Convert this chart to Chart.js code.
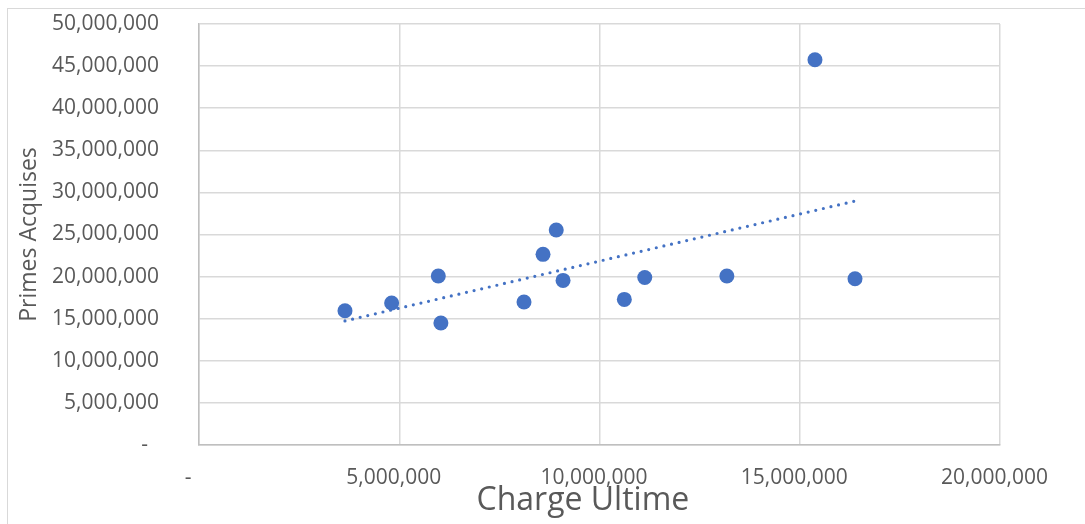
<!DOCTYPE html>
<html>
<head>
<meta charset="utf-8">
<script src="https://cdn.jsdelivr.net/npm/chart.js@4"></script>
<style>
  html, body { margin: 0; padding: 0; background: #fff; }
  #wrap { position: relative; width: 1085px; height: 524px; overflow: hidden; }
  #frame { position: absolute; left: 7px; top: 8px; right: -2px; bottom: -2px;
           border-top: 1px solid #d9d9d9; border-left: 1px solid #d9d9d9; }
  #chart { position: absolute; left: 0; top: 0; }
</style>
</head>
<body>
<div id="wrap">
  <div id="frame"></div>
  <canvas id="chart" width="1085" height="524"></canvas>
</div>
<script>
// data
const chargeUltime = [3645000, 4810000, 5975000, 6040000, 8115000, 8590000, 8920000,
                      9090000, 10620000, 11130000, 13180000, 15380000, 16380000];
const primesAcquises = [15950000, 16860000, 20070000, 14490000, 16980000, 22640000, 25530000,
                        19550000, 17290000, 19900000, 20070000, 45760000, 19750000];
const xTicks = [0, 5000000, 10000000, 15000000, 20000000];
const yTicks = [0, 5000000, 10000000, 15000000, 20000000, 25000000,
                30000000, 35000000, 40000000, 45000000, 50000000];

const blue = '#4472C4';
const grey = '#595959';
const font = 'Open Sans';

// linear trendline (least squares), like Excel's
function trendline(xs, ys) {
    const n = xs.length;
    const mx = xs.reduce((a, b) => a + b, 0) / n;
    const my = ys.reduce((a, b) => a + b, 0) / n;
    let sxy = 0, sxx = 0;
    for (let i = 0; i < n; i++) {
        sxy += (xs[i] - mx) * (ys[i] - my);
        sxx += (xs[i] - mx) * (xs[i] - mx);
    }
    const slope = sxy / sxx;
    const x0 = Math.min(...xs), x1 = Math.max(...xs);
    return [
        { x: x0, y: my + slope * (x0 - mx) },
        { x: x1, y: my + slope * (x1 - mx) }
    ];
}

function fmt(v) {
    return v === 0 ? '-' : v.toLocaleString('en-US');
}

const points = chargeUltime.map((x, i) => ({ x: x, y: primesAcquises[i] }));

new Chart(document.getElementById('chart'), {
    type: 'scatter',
    data: {
        datasets: [
            {
                type: 'line',
                data: trendline(chargeUltime, primesAcquises),
                borderColor: blue,
                borderWidth: 3.2,
                borderDash: [0, 7.8],
                borderCapStyle: 'round',
                pointRadius: 0,
                fill: false,
                order: 0
            },
            {
                data: points,
                backgroundColor: blue,
                borderColor: blue,
                borderWidth: 0,
                pointRadius: 7.5,
                pointHoverRadius: 7.5,
                order: 1
            }
        ]
    },
    options: {
        responsive: false,
        animation: false,
        devicePixelRatio: 1,
        layout: { padding: { top: 24, right: 85, left: 0, bottom: 0 } },
        plugins: {
            legend: { display: false },
            tooltip: { enabled: false }
        },
        scales: {
            x: {
                type: 'linear',
                min: 0,
                max: 20000000,
                afterBuildTicks: scale => { scale.ticks = xTicks.map(v => ({ value: v })); },
                afterFit: scale => { scale.height = 79; },
                grid: { color: '#d9d9d9', lineWidth: 1.5, drawTicks: false },
                border: { color: '#bfbfbf', width: 1.5 },
                ticks: {
                    color: grey,
                    font: { family: font, size: 21 },
                    padding: 20,
                    maxRotation: 0,
                    autoSkip: false,
                    callback: v => fmt(v) + (v === 0 ? '    ' : '  ')
                },
                title: {
                    display: true,
                    text: 'Charge Ultime    ',
                    color: grey,
                    font: { family: font, size: 32 },
                    padding: { top: 0, bottom: 4 }
                }
            },
            y: {
                min: 0,
                max: 50000000,
                afterBuildTicks: scale => { scale.ticks = yTicks.map(v => ({ value: v })); },
                afterFit: scale => { scale.width = 199; },
                // invisible tick marks give the gap between labels and plot
                grid: { color: '#d9d9d9', lineWidth: 1.5, drawTicks: true, tickLength: 40, tickColor: 'rgba(0,0,0,0)' },
                border: { color: '#bfbfbf', width: 1.5 },
                ticks: {
                    color: grey,
                    font: { family: font, size: 21 },
                    padding: 0,
                    autoSkip: false,
                    callback: v => fmt(v) + (v === 0 ? '  ' : '')
                },
                title: {
                    display: true,
                    text: 'Primes Acquises',
                    color: grey,
                    font: { family: font, size: 23 },
                    padding: { top: 16, bottom: 0 }
                }
            }
        }
    }
});
</script>
</body>
</html>
